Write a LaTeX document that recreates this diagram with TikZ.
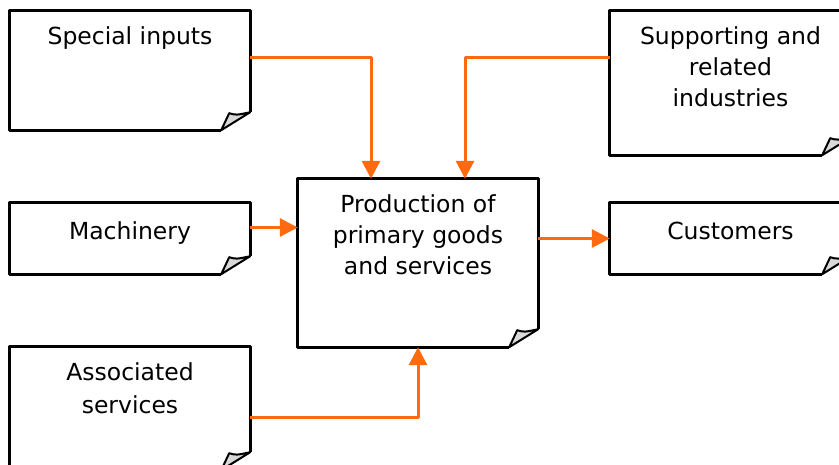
\documentclass[tikz,border=0pt]{standalone}
\usepackage{fontspec}
\setmainfont{DejaVu Sans}
\usetikzlibrary{arrows.meta,calc,positioning}
\definecolor{linkorange}{RGB}{255,106,16}

\begin{document}
\begin{tikzpicture}[x=1pt,y=-1pt,line join=round,
box/.style={minimum width=240pt,inner sep=0pt},
lbl/.style={font=\fontsize{23.5}{31}\selectfont,align=center,inner sep=0pt},
link/.style={draw=linkorange,line width=3pt,-{Triangle[length=18pt,width=18pt]}}]
\useasboundingbox(0,0)rectangle(839,464);
\node[box,minimum height=119pt](spec)at(130,70.5){};
\node[box,minimum width=241pt,minimum height=144pt](supp)at(730.5,83){};
\node[box,minimum height=71pt](mach)at(130,238.5){};
\node[box,minimum width=241pt,minimum height=71pt](cust)at(730.5,238.5){};
\node[box,minimum height=123pt](assoc)at(130,408.5){};
\node[box,minimum height=168pt](prod)at(418,263){};
\node[lbl,below=16pt of spec.north](spectxt){Special inputs};
\node[lbl,below=16pt of supp.north](supptxt){Supporting and\\related\\industries};
\node[lbl,below=19pt of mach.north](machtxt){Machinery};
\node[lbl,below=19pt of cust.north](custtxt){Customers};
\node[lbl,below=16pt of prod.north](prodtxt){Production of\\primary goods\\and services};
\node[lbl,below=16pt of assoc.north,font=\fontsize{23.5}{33}\selectfont](assoctxt){Associated\\services};
% page outlines with the curled corner
\foreach \n in{spec,supp,mach,cust,assoc,prod}{
\draw[line width=3pt]($(\n.south east)+(0,-18)$)--(\n.north east)--(\n.north west)
--(\n.south west)--($(\n.south east)+(-29,0)$);
\filldraw[line width=2pt,fill=gray!30]($(\n.south east)+(-29,0)$)--($(\n.south east)+(-21,-17)$)
..controls($(\n.south east)+(-14,-15)$)..($(\n.south east)+(0,-18)$)--cycle;
}
\coordinate(specout)at($(spec.north east)+(0,47)$);
\coordinate(suppout)at($(supp.north west)+(0,47)$);
\coordinate(machout)at($(mach.east)+(0,-11)$);
\coordinate(assocout)at($(assoc.east)+(0,8.5)$);
\draw[link](specout)-|($(prod.north)+(-47,0)$);
\draw[link](suppout)-|($(prod.north)+(47,0)$);
\draw[link](machout)--(machout-|prod.west);
\draw[link](prod.east|-cust.west)--(cust.west);
\draw[link](assocout)-|(prod.south);
\end{tikzpicture}
\end{document}
